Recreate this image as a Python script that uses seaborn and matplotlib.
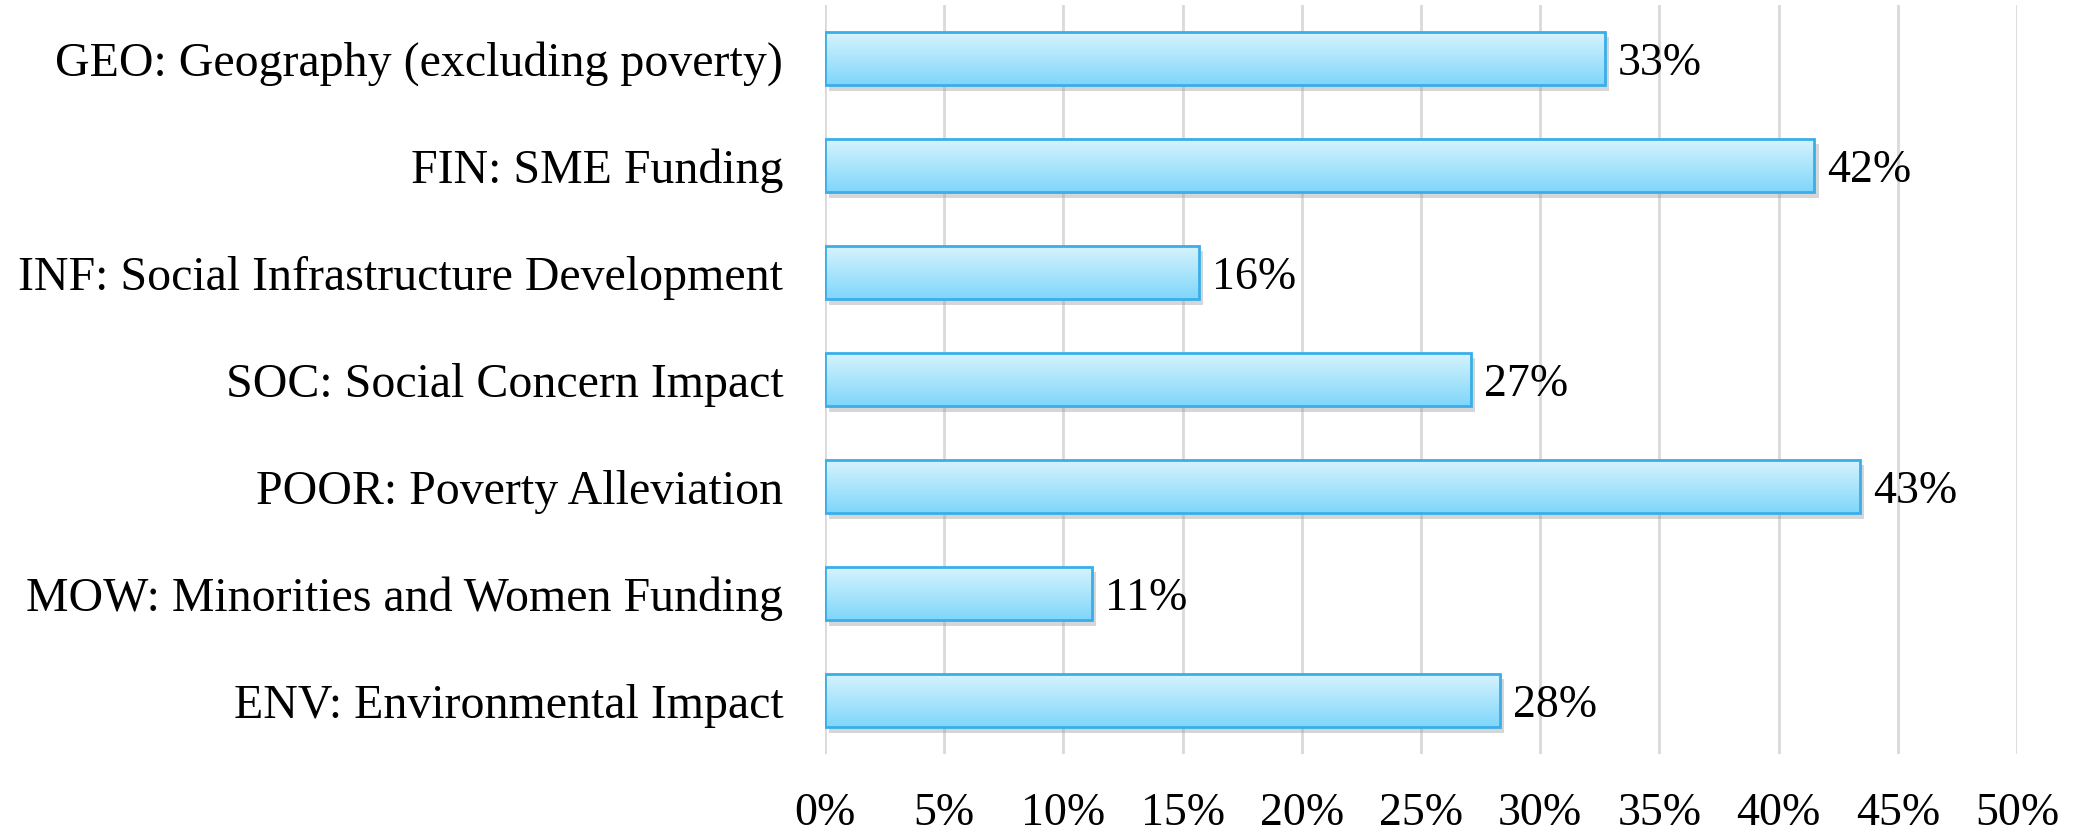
import matplotlib
matplotlib.use("Agg")
import matplotlib.pyplot as plt
import matplotlib.patheffects as pe
from matplotlib.patches import Rectangle
from matplotlib.ticker import PercentFormatter
import numpy as np
import pandas as pd
import seaborn as sns

categories = [
    "GEO: Geography (excluding poverty)",
    "FIN: SME Funding",
    "INF: Social Infrastructure Development",
    "SOC: Social Concern Impact",
    "POOR: Poverty Alleviation",
    "MOW: Minorities and Women Funding",
    "ENV: Environmental Impact",
]
shares = [0.327, 0.415, 0.157, 0.271, 0.434, 0.112, 0.283]

df = pd.DataFrame({"category": categories, "share": shares})

sns.set_theme(style="white")
plt.rcParams["font.family"] = ["Liberation Serif", "DejaVu Serif"]
plt.rcParams["text.color"] = "black"
plt.rcParams["xtick.color"] = "black"
plt.rcParams["ytick.color"] = "black"

fig = plt.figure(figsize=(20.85, 8.33), dpi=100)
ax = fig.add_axes([0.3957, 0.0948, 0.9674 - 0.3957, 0.994 - 0.0948])

sns.barplot(data=df, x="share", y="category", orient="h", width=0.5,
            color="white", edgecolor="none", ax=ax, zorder=2)

# gradient fill: light at top, deeper cyan at bottom
grad = np.linspace(0, 1, 256).reshape(-1, 1)
cmap = matplotlib.colors.LinearSegmentedColormap.from_list(
    "barfill", ["#d8f4fd", "#7fd6fb"])

for bar in ax.patches:
    x0, y0 = bar.get_x(), bar.get_y()
    w, h = bar.get_width(), bar.get_height()
    bar.set_path_effects([pe.SimplePatchShadow(offset=(3, -4), shadow_rgbFace="#9a9a9a", alpha=0.4),
                          pe.Normal()])
    img = ax.imshow(grad, cmap=cmap, aspect="auto", extent=(x0, x0 + w, y0 + h, y0),
                    zorder=2.5, interpolation="bilinear")
    img.set_clip_path(bar)
    ax.add_patch(Rectangle((x0, y0), w, h, facecolor="none", edgecolor="#3aaeea",
                           linewidth=2, zorder=3))
    ax.text(x0 + w + 0.0055, y0 + h / 2, f"{round(w * 100):.0f}%", va="center_baseline",
            ha="left", fontsize=33, color="black", zorder=4)

ax.set_xlim(0, 0.5)
ax.set_ylim(len(categories) - 0.5, -0.5)
ax.set_xticks(np.arange(0, 0.501, 0.05))
ax.xaxis.set_major_formatter(PercentFormatter(1.0, decimals=0))
ax.grid(axis="x", color="#d9d9d9", linewidth=2, zorder=0)
ax.grid(axis="y", visible=False)
ax.set_axisbelow(True)
for s in ax.spines.values():
    s.set_visible(False)
ax.tick_params(axis="x", length=0, pad=28, labelsize=33, labelcolor="black")
ax.tick_params(axis="y", length=0, pad=30, labelsize=34.5, labelcolor="black")
ax.set_xlabel("")
ax.set_ylabel("")

fig.savefig("out.png", dpi=100)
